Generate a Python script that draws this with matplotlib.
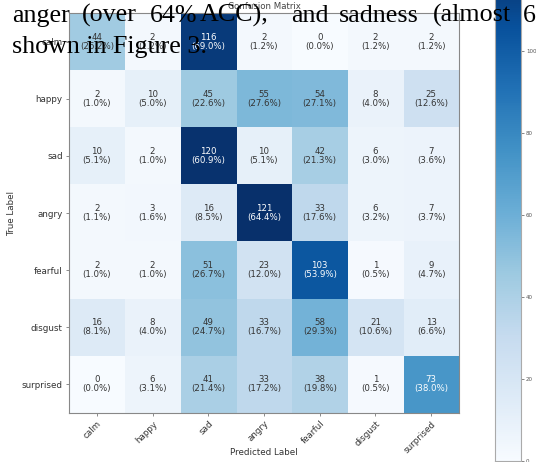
import numpy as np
import matplotlib
matplotlib.use("Agg")
import matplotlib.pyplot as plt

labels = ["calm", "happy", "sad", "angry", "fearful", "disgust", "surprised"]

# rows = true label, columns = predicted label
row_calm = [44, 2, 116, 2, 0, 2, 2]
row_happy = [2, 10, 45, 55, 54, 8, 25]
row_sad = [10, 2, 120, 10, 42, 6, 7]
row_angry = [2, 3, 16, 121, 33, 6, 7]
row_fearful = [2, 2, 51, 23, 103, 1, 9]
row_disgust = [16, 8, 49, 33, 58, 21, 13]
row_surprised = [0, 6, 41, 33, 38, 1, 73]

# paper text that sits over the top of the screenshot (justified line)
line1_words = ["anger", "(over", "64%", "ACC),", "and", "sadness", "(almost", "6"]
line1_x = [12, 82, 150, 200, 291, 339, 433, 523]
line2 = "shown in Figure 3."

cm = np.array([row_calm, row_happy, row_sad, row_angry,
               row_fearful, row_disgust, row_surprised])
pct = cm / cm.sum(axis=1, keepdims=True) * 100

W, H = 536, 462
fig = plt.figure(figsize=(W / 100, H / 100), dpi=100)
ax = fig.add_axes([69 / W, 1 - 413 / H, 390 / W, 400 / H])
im = ax.imshow(cm, cmap="Blues", vmin=0, vmax=cm.max(), aspect="auto",
               interpolation="nearest")

thresh = cm.max() / 2
for i in range(cm.shape[0]):
    for j in range(cm.shape[1]):
        ax.text(j, i, f"{cm[i, j]}\n({pct[i, j]:.1f}%)", ha="center", va="center",
                fontsize=6.2, linespacing=1.0,
                color="white" if cm[i, j] > thresh else "#333333")

ax.set_xticks(range(len(labels)))
ax.set_yticks(range(len(labels)))
ax.set_xticklabels(labels, rotation=45, ha="right", rotation_mode="anchor",
                   fontsize=6.3, color="#333333")
ax.set_yticklabels(labels, fontsize=6.3, color="#333333")
ax.tick_params(length=2.5, width=0.6, color="#777777", pad=2)
for s in ax.spines.values():
    s.set_color("#888888")
    s.set_linewidth(0.8)
ax.set_xlabel("Predicted Label", fontsize=6.3, color="#333333")
ax.xaxis.set_label_coords(0.5, -0.088)
ax.set_ylabel("True Label", fontsize=6.3, color="#333333", labelpad=4)
ax.set_title("Confusion Matrix", fontsize=6.2, color="#444444", pad=3)

cax = fig.add_axes([495 / W, 1 - 461 / H, 26 / W, 496 / H])
cb = fig.colorbar(im, cax=cax)
cb.set_ticks([0, 20, 40, 60, 80, 100])
cb.ax.tick_params(labelsize=4, length=2, width=0.5, colors="#555555", pad=1.5)
cb.outline.set_edgecolor("#aaaaaa")
cb.outline.set_linewidth(0.8)

for w, x in zip(line1_words, line1_x):
    fig.text(x / W, 1 - 22 / H, w, fontsize=18.7, family="Liberation Serif",
             color="black", va="baseline", ha="left", zorder=10)
fig.text(12 / W, 1 - 53 / H, line2, fontsize=18.7, family="Liberation Serif",
         color="black", va="baseline", ha="left", zorder=10)

fig.savefig("out.png", dpi=100)
